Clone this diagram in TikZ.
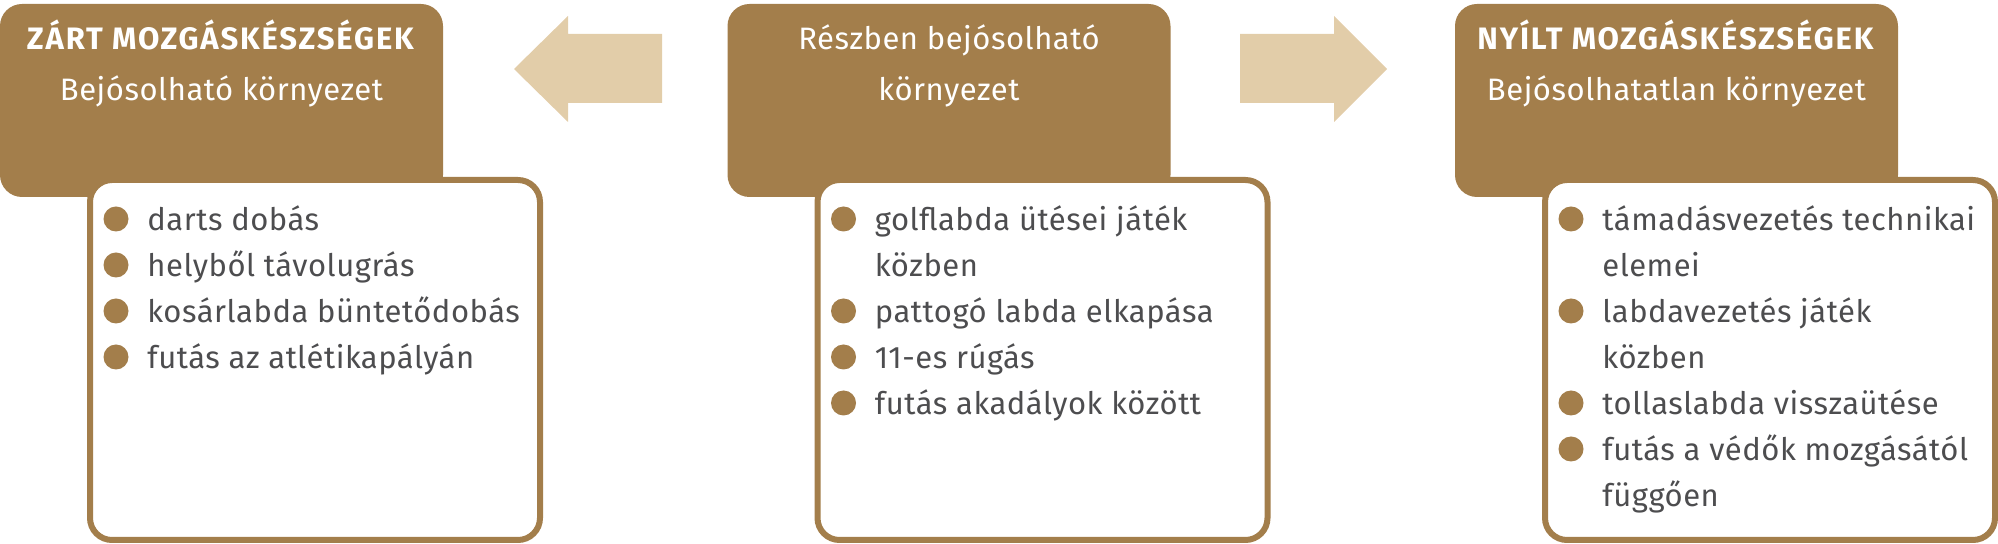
\documentclass[tikz,border=0pt]{standalone}
\usepackage{fontspec}
\setmainfont{Fira Sans}[LetterSpace=1.7, BoldFeatures={LetterSpace=6}]
\definecolor{barna}{HTML}{A37E4B}
\definecolor{bezs}{HTML}{E2CDA9}
\definecolor{szurke}{HTML}{4D4D4F}
\tikzset{
  fej/.style={fill=barna, rounded corners=11pt},
  doboz/.style={draw=barna, fill=white, line width=3pt, rounded corners=11pt},
  cim/.style={text=white, anchor=base, inner sep=0},
  pont/.style={circle, fill=barna, minimum size=12.5pt, inner sep=0},
  elem/.style={text=szurke, anchor=base west, inner sep=0},
  nyil/.style={fill=bezs}
}
\begin{document}
\begin{tikzpicture}[x=0.5pt,y=-0.5pt, font=\fontsize{15.5}{23}\selectfont, line join=round]
	\def\xa{0} \def\xb{727.5} \def\xc{1455} % oszlopok
	\useasboundingbox (0,0) rectangle (1998,544);
	% nyilak
	\fill[nyil] (514,69)--(568,16)--(568,34)--(662,34)--(662,103)--(568,103)--(568,122)--cycle;
	\fill[nyil] (1387,69)--(1334,16)--(1334,34)--(1240,34)--(1240,103)--(1334,103)--(1334,122)--cycle;
	% fejlecek
	\fill[fej] (\xa,4) rectangle (\xa+443,197);
	\fill[fej] (\xb,4) rectangle (\xb+443,197);
	\fill[fej] (\xc,4) rectangle (\xc+443,197);
	\node[cim] (zart) at (\xa+221.5,50) {\textbf{ZÁRT MOZGÁSKÉSZSÉGEK}};
	\node[cim] (zartk) at (\xa+221.5,101) {Bejósolható környezet};
	\node[cim] (resz) at (\xb+221.5,50) {Részben bejósolható};
	\node[cim] (reszk) at (\xb+221.5,101) {környezet};
	\node[cim] (nyilt) at (\xc+221.5,50) {\textbf{NYÍLT MOZGÁSKÉSZSÉGEK}};
	\node[cim] (nyiltk) at (\xc+221.5,101) {Bejósolhatatlan környezet};
	% dobozok
	\draw[doboz] (\xa+90,180) rectangle (\xa+540,540);
	\draw[doboz] (\xb+90,180) rectangle (\xb+540,540);
	\draw[doboz] (\xc+90,180) rectangle (\xc+540,540);
	% zart
	\node[pont] (a1) at (\xa+116,219) {};
	\node[pont] (a2) at (\xa+116,265) {};
	\node[pont] (a3) at (\xa+116,311) {};
	\node[pont] (a4) at (\xa+116,357) {};
	\node[elem] at (\xa+147,231) {darts dobás};
	\node[elem] at (\xa+147,277) {helyből távolugrás};
	\node[elem] at (\xa+147,323) {kosárlabda büntetődobás};
	\node[elem] at (\xa+147,369) {futás az atlétikapályán};
	% reszben
	\node[pont] (b1) at (\xb+116,219) {};
	\node[pont] (b2) at (\xb+116,311) {};
	\node[pont] (b3) at (\xb+116,357) {};
	\node[pont] (b4) at (\xb+116,403) {};
	\node[elem] at (\xb+147,231) {golflabda ütései játék};
	\node[elem] at (\xb+147,277) {közben};
	\node[elem] at (\xb+147,323) {pattogó labda elkapása};
	\node[elem] at (\xb+147,369) {11-es rúgás};
	\node[elem] at (\xb+147,415) {futás akadályok között};
	% nyilt
	\node[pont] (c1) at (\xc+116,219) {};
	\node[pont] (c2) at (\xc+116,311) {};
	\node[pont] (c3) at (\xc+116,403) {};
	\node[pont] (c4) at (\xc+116,449) {};
	\node[elem] at (\xc+147,231) {támadásvezetés technikai};
	\node[elem] at (\xc+147,277) {elemei};
	\node[elem] at (\xc+147,323) {labdavezetés játék};
	\node[elem] at (\xc+147,369) {közben};
	\node[elem] at (\xc+147,415) {tollaslabda visszaütése};
	\node[elem] at (\xc+147,461) {futás a védők mozgásától};
	\node[elem] at (\xc+147,507) {függően};
\end{tikzpicture}
\end{document}
